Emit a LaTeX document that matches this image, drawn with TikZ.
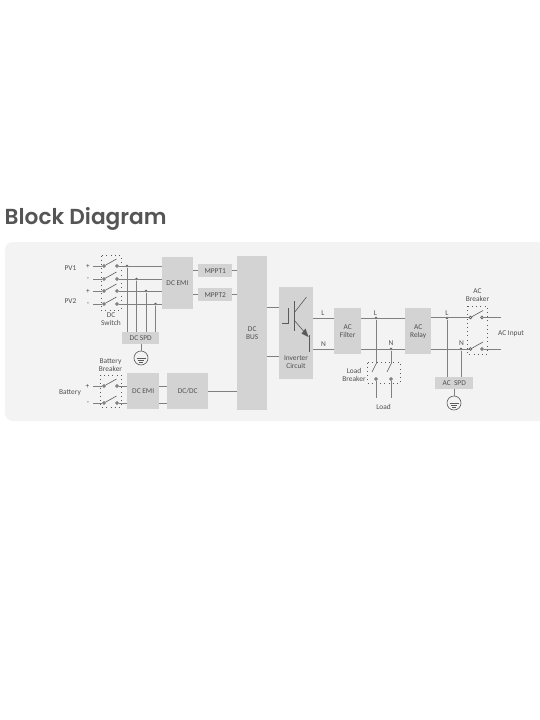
\documentclass[tikz,border=0pt]{standalone}
\usepackage{fontspec}
\setmainfont{Carlito}
\newfontfamily\titlefont{Poppins}[BoldFont={* SemiBold}]
\definecolor{panelc}{HTML}{F3F3F3}
\definecolor{blockc}{HTML}{D3D3D3}
\definecolor{wirec}{HTML}{808080}
\definecolor{darkw}{HTML}{5A5A5A}
\definecolor{textc}{HTML}{505050}
\definecolor{titlec}{HTML}{555555}
\tikzset{
  x=1pt,y=-1pt,
  block/.style={fill=blockc,draw=none,inner sep=0pt,font=\fontsize{7.4}{8}\selectfont,text=textc,align=center},
  lab/.style={inner sep=0pt,font=\fontsize{7.4}{8}\selectfont,text=textc,align=center},
  wire/.style={draw=wirec,line width=1pt},
  dk/.style={draw=darkw,line width=0.6pt},
  dotbox/.style={draw=darkw,line width=0.7pt,dash pattern=on 0.8pt off 3.4pt},
  contact/.style={circle,draw=darkw,fill=panelc,line width=0.6pt,inner sep=0pt,minimum size=2.8pt},
  junction/.style={circle,fill=darkw,draw=none,inner sep=0pt,minimum size=2.8pt},
  gndring/.style={circle,draw=darkw,line width=0.6pt,inner sep=0pt,minimum size=14pt},
}
\newcommand{\blk}[5]{\node[block,minimum width=#4pt-#2pt,minimum height=#5pt-#3pt,anchor=north west] (#1) at (#2,#3)}
\newcommand{\gndbars}[1]{\draw[dk] ([xshift=-4.5pt,yshift=-0.5pt]#1.center) -- ([xshift=4.5pt,yshift=-0.5pt]#1.center) ([xshift=-3.2pt,yshift=-2.3pt]#1.center) -- ([xshift=3.2pt,yshift=-2.3pt]#1.center) ([xshift=-1.8pt,yshift=-4pt]#1.center) -- ([xshift=1.8pt,yshift=-4pt]#1.center);}
\begin{document}
\begin{tikzpicture}
\useasboundingbox (0,0) rectangle (540,720);
\fill[white] (0,0) rectangle (540,720);
\node[anchor=base west,inner sep=0pt,font=\titlefont\bfseries\fontsize{21.7}{24}\selectfont,text=titlec] (title) at (4.5,224) {Block Diagram};
\fill[panelc,rounded corners=8pt] (5,242) rectangle (560,421);
\clip (0,0) rectangle (540,720);

% blocks
\blk{emia}{161.5}{257}{193}{309} {DC EMI};
\blk{mppta}{198}{264}{232}{277} {MPPT1};
\blk{mpptb}{198}{288}{232}{301} {MPPT2};
\blk{bus}{237}{256}{267}{410} {DC\\BUS};
\blk{spdd}{122}{332}{159}{344} {DC SPD};
\blk{emib}{127}{373}{159}{409} {DC EMI};
\blk{dcdc}{167}{373}{208}{409} {DC/DC};
\blk{inv}{279}{287}{313}{379} {};
\blk{filt}{334}{308}{361}{354} {AC\\Filter};
\blk{relay}{405}{308}{431}{354} {AC\\Relay};
\blk{spda}{435}{377}{473}{389} {AC\ \ SPD};

% labels
\node[lab] (lpv1) at (70.5,268) {PV1};
\node[lab] (lpv2) at (70.5,301) {PV2};
\node[lab] (lp1) at (88,266) {+};
\node[lab] (lm1) at (88,279) {-};
\node[lab] (lp2) at (88,291) {+};
\node[lab] (lm2) at (88,304) {-};
\node[lab] (lsw) at (111,319) {DC\\Switch};
\node[lab] (lbb) at (110.5,365) {Battery\\Breaker};
\node[lab] (lbat) at (70,393) {Battery};
\node[lab] (lp3) at (87.5,386) {+};
\node[lab] (lm3) at (88,403) {-};
\node[lab] (linv) at (296,362) {Inverter\\Circuit};
\node[lab] (ll1) at (323,313) {L};
\node[lab] (ln1) at (323.5,344) {N};
\node[lab] (ll2) at (375.5,313) {L};
\node[lab] (ln2) at (391,343) {N};
\node[lab] (lload) at (383.5,407) {Load};
\node[lab] (llb) at (354,374.5) {Load\\Breaker};
\node[lab] (ll3) at (447,313) {L};
\node[lab] (ln3) at (461.5,343) {N};
\node[lab] (lacb) at (477.5,295) {AC\\Breaker};
\node[lab] (laci) at (511,334) {AC Input};

% dotted switch boxes
\draw[dotbox] (101,255.5) rectangle (121,310);
\draw[dotbox] (100.5,375) rectangle (121,407);
\draw[dotbox] (367,362.5) rectangle (400,383);
\draw[dotbox] (467,306) rectangle (487,354);

% named points
\foreach \n/\y in {a/266,b/279,c/291,d/304,e/386,f/403}{
  \coordinate (st\n) at (93,\y);
  \node[contact] (cl\n) at (104,\y) {};
  \node[contact] (cr\n) at (117,\y) {};
  \coordinate (tip\n) at (116.5,\y-7);
}
\node[junction] (ja) at (127,266) {};
\node[junction] (jb) at (136.5,279) {};
\node[junction] (jc) at (146,291) {};
\node[junction] (jd) at (155.5,304) {};

% PV wires
\foreach \n in {a,b,c,d}{
  \draw[wire] (st\n) -- (cl\n);
  \draw[dk] (cl\n) -- (tip\n);
}
\foreach \n/\t in {a/ja,b/jb,c/jc,d/jd}{
  \draw[wire] (cr\n) -- (emia.west |- cr\n);
  \draw[wire] (\t) -- (\t |- spdd.north);
}
% battery wires
\foreach \n in {e,f}{
  \draw[wire] (st\n) -- (cl\n);
  \draw[dk] (cl\n) -- (tip\n);
  \draw[wire] (cr\n) -- (emib.west |- cr\n);
  \draw[wire] (emib.east |- cr\n) -- (dcdc.west |- cr\n);
}
\draw[wire] (emia.east |- mppta.east) -- (mppta.west);
\draw[wire] (emia.east |- mpptb.east) -- (mpptb.west);
\draw[wire] (mppta.east) -- (bus.west |- mppta.east);
\draw[wire] (mpptb.east) -- (bus.west |- mpptb.east);
\draw[wire] (dcdc.east) -- (bus.west |- dcdc.east);
\coordinate (bi1) at (267,307);
\coordinate (bi2) at (267,356);
\draw[wire] (bi1) -- (inv.west |- bi1);
\draw[wire] (bi2) -- (inv.west |- bi2);

% inverter symbol
\draw[dk,line width=0.8pt] (294,301) -- (294,331);
\draw[dk] (294,313) -- (306.5,297);
\draw[dk] (294,320) -- (307,335);
\fill[darkw] (308.5,337) -- (301.5,333.5) -- (305.5,328.5) -- cycle;
\draw[dk,line width=0.8pt] (309,335) -- (309,352);
\draw[dk] (288,308) -- (288,323) -- (282,323);

% AC lines
\coordinate (jl) at (376,318);
\node[junction] (jl2) at (376,318) {};
\node[junction] (jn2) at (391,349) {};
\node[junction] (jl3) at (447,318) {};
\node[junction] (jn3) at (461,349) {};
\draw[wire] (inv.east |- jl) -- (filt.west |- jl);
\draw[wire] (inv.east |- jn2) -- (filt.west |- jn2);
\draw[wire] (filt.east |- jl) -- (relay.west |- jl);
\draw[wire] (filt.east |- jn2) -- (relay.west |- jn2);
\node[contact] (lcl) at (376,379) {};
\node[contact] (lcr) at (391,379) {};
\coordinate (lta) at (376,364);
\coordinate (ltb) at (391,364);
\coordinate (lsa) at (372,372);
\coordinate (lsb) at (387,372);
\coordinate (lba) at (376,398);
\coordinate (lbc) at (391,398);
\draw[wire] (jl2) -- (lta) (lcl) -- (lba);
\draw[wire] (jn2) -- (ltb) (lcr) -- (lbc);
\draw[dk] (lsa) -- (lta) (lsb) -- (ltb);

\coordinate (ael) at (501,317.5);
\coordinate (aen) at (501,349);
\node[contact] (acl) at (470.5,317.5) {};
\node[contact] (acr) at (482,317.5) {};
\node[contact] (ancl) at (470.5,349) {};
\node[contact] (ancr) at (482,349) {};
\draw[wire] (relay.east |- acl) -- (acl);
\draw[wire] (relay.east |- ancl) -- (ancl);
\draw[wire] (acr) -- (ael);
\draw[wire] (ancr) -- (aen);
\coordinate (tl) at (483,310.5);
\coordinate (tn) at (483,342);
\draw[dk] (acl) -- (tl) (ancl) -- (tn);
\draw[wire] (jl3) -- (jl3 |- spda.north);
\draw[wire] (jn3) -- (jn3 |- spda.north);

% grounds
\node[gndring] (gd) at (141,358) {};
\draw[wire] (spdd.south -| gd) -- (gd.north);
\gndbars{gd}
\node[gndring] (ga) at (454,403) {};
\draw[wire] (spda.south -| ga) -- (ga.north);
\gndbars{ga}
\end{tikzpicture}
\end{document}
